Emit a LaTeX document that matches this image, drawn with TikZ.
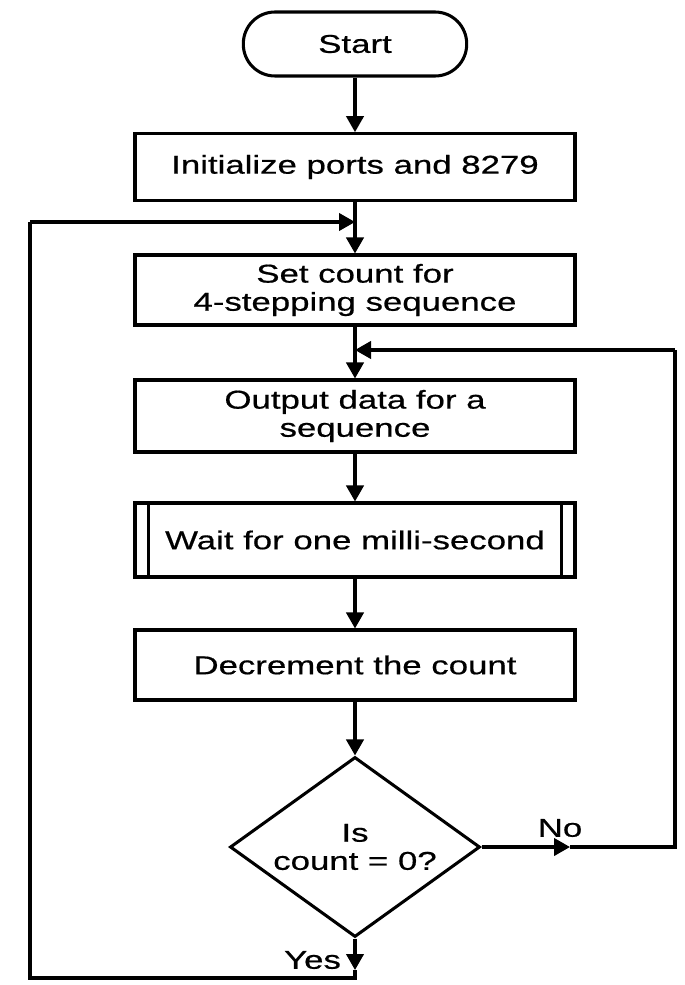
\documentclass[tikz,border=0pt]{standalone}
\usepackage{fontspec}
\setmainfont{Liberation Sans}[FakeStretch=1.35,FakeBold=0.6]
\usetikzlibrary{arrows.meta,shapes.geometric}
\tikzset{
  txt/.style={font=\fontsize{22}{24}\selectfont, align=center},
  box/.style={txt, draw, line width=2.6pt, minimum width=13.2cm, inner sep=0pt},
  term/.style={txt, draw, line width=2.6pt, minimum width=6.7cm, minimum height=1.92cm, rounded corners=0.95cm},
  dec/.style={txt, draw, diamond, aspect=1.39, line width=2.6pt, minimum width=7.5cm, minimum height=5.4cm, inner sep=0pt},
  conn/.style={line width=2.6pt},
  arr/.style={conn, -{Triangle[length=0.48cm,width=0.52cm]}},
}
\begin{document}
\begin{tikzpicture}[x=0.03cm,y=-0.03cm]
\useasboundingbox (0,0) rectangle (685,985);
\node[term] (start) at (355,44) {Start};
\node[box, minimum height=2.0cm] (init) at (355,167) {Initialize ports and 8279};
\node[box, minimum height=2.1cm] (set) at (355,290) {Set count for\\4-stepping sequence};
\node[box, minimum height=2.16cm] (out) at (355,416) {Output data for a\\sequence};
\node[box, minimum height=2.22cm] (wait) at (355,540) {Wait for one milli-second};
\draw[conn] ([xshift=0.45cm]wait.north west) -- ([xshift=0.45cm]wait.south west);
\draw[conn] ([xshift=-0.45cm]wait.north east) -- ([xshift=-0.45cm]wait.south east);
\node[box, minimum height=2.1cm] (decr) at (355,665) {Decrement the count};
\node[dec] (dia) at (355,847) {Is\\count = 0?};
\node[txt] (no) at (560,828) {No};
\node[txt, anchor=east] (yes) at (345,960) {Yes};

\coordinate (j1) at (355,222);
\coordinate (j2) at (355,350);
\coordinate (ya) at (355,970);
\coordinate (yb) at (355,978);
\coordinate (lb) at (30,978);
\coordinate (lt) at (30,222);
\coordinate (na) at (570,847);
\coordinate (rb) at (675,847);
\coordinate (rt) at (675,350);

\draw[arr] (start) -- (init);
\draw[arr] (init) -- (set);
\draw[arr] (set) -- (out);
\draw[arr] (out) -- (wait);
\draw[arr] (wait) -- (decr);
\draw[arr] (decr) -- (dia);
\draw[arr] (dia.south) -- (ya);
\draw[conn] (ya) -- (yb) -- (lb) -- (lt);
\draw[arr] (lt) -- (j1);
\draw[arr] (dia.east) -- (na);
\draw[conn] (na) -- (rb) -- (rt);
\draw[arr] (rt) -- (j2);
\end{tikzpicture}
\end{document}
